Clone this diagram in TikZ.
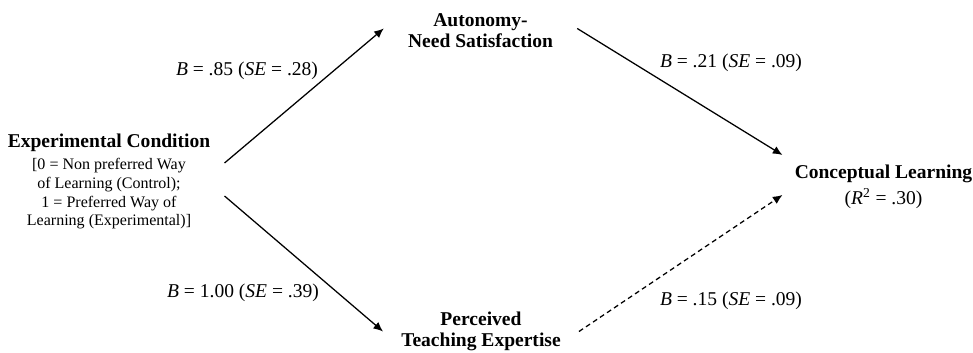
\documentclass[tikz,border=0pt]{standalone}
\usepackage{fontspec}
\setmainfont{Liberation Serif}
\usetikzlibrary{arrows.meta}

\begin{document}
\begin{tikzpicture}[
	var/.style={font=\fontsize{13.9}{14.9}\selectfont\bfseries, align=center, inner sep=0pt},
	coef/.style={font=\fontsize{13.9}{15}\selectfont, inner sep=0pt},
	path/.style={line width=0.9pt, -{Latex[length=2.4mm,width=2.1mm]}}
	]
				\useasboundingbox (0,0) rectangle (24.325,8.8);
				
				\node[var] (cond) at (2.725,5.225) {Experimental Condition};
				\node[align=center, inner sep=0pt, font=\fontsize{11.4}{13.3}\selectfont] (condnote) at (2.725,3.95) {[0 = Non preferred Way\\ of Learning (Control);\\ 1 = Preferred Way of\\ Learning (Experimental)]};
				\node[var, inner xsep=0.6cm] (auto) at (12.0125,8.0375) {Autonomy-\\Need Satisfaction};
				\node[var, inner xsep=0.45cm] (percv) at (12.025,0.5125) {Perceived\\Teaching Expertise};
				\node[var] (concept) at (22.0875,4.125) {Conceptual Learning\\[3.5pt]{\mdseries(\textit{R}\textsuperscript{2} = .30)}};
				
				\node[coef] (b85) at (6.175,7.025) {\textit{B} = .85 (\textit{SE} = .28)};
				\node[coef] (b21) at (18.275,7.225) {\textit{B} = .21 (\textit{SE} = .09)};
				\node[coef] (b100) at (6.075,1.475) {\textit{B} = 1.00 (\textit{SE} = .39)};
				\node[coef] (b15) at (18.275,1.275) {\textit{B} = .15 (\textit{SE} = .09)};
				
				\draw[path] ([shift={(0.35,-0.5)}]cond.east) -- ([yshift=0.05cm]auto.west);
				\draw[path] ([shift={(0.35,-1.325)}]cond.east) -- (percv.west);
				\draw[path] ([yshift=0.05cm]auto.east) -- ([shift={(-0.3,0.8)}]concept.west);
				\draw[path, dash pattern=on 3.5pt off 2.5pt] (percv.east) -- ([shift={(-0.3,-0.2)}]concept.west);
			\end{tikzpicture}
\end{document}
